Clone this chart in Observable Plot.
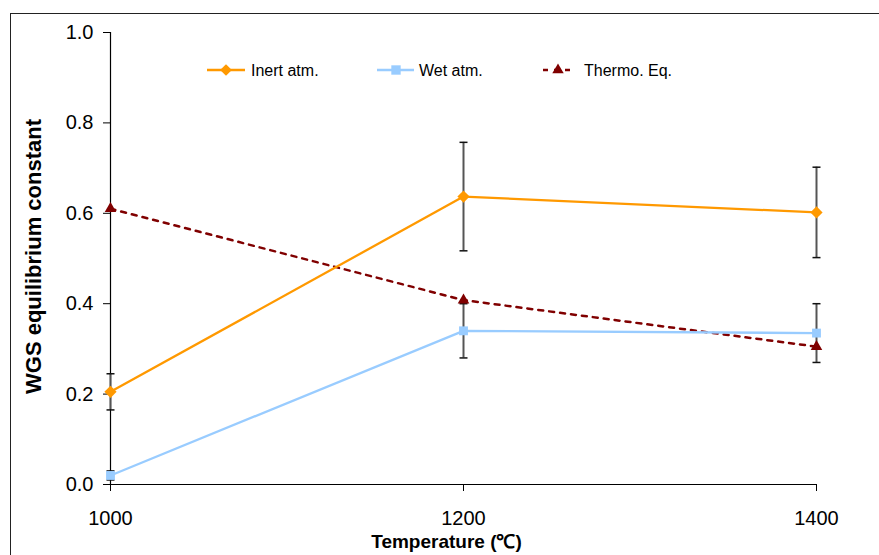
<!DOCTYPE html>
<html>
<head>
<meta charset="utf-8">
<script src="https://cdn.jsdelivr.net/npm/d3@7"></script>
<script src="https://cdn.jsdelivr.net/npm/@observablehq/plot@0.6"></script>
<style>
  html, body { margin: 0; padding: 0; background: #fff; }
  #wrap { position: relative; width: 879px; height: 555px; overflow: hidden; font-family: "Liberation Sans", Arial, sans-serif; }
  #border { position: absolute; left: 10px; top: 13px; width: 1000px; height: 1000px; border-top: 1.5px solid #222; border-left: 1.5px solid #222; }
  #chart { position: absolute; left: 0; top: 0; }
  #legend { position: absolute; left: 0; top: 0; }
</style>
</head>
<body>
<div id="wrap">
  <div id="border"></div>
  <div id="chart"></div>
  <svg id="legend" width="879" height="120"></svg>
</div>
<script>
const temps = [1000, 1200, 1400];
const inert = [0.205, 0.637, 0.602];
const inertErr = [0.04, 0.12, 0.10];
const wet = [0.02, 0.34, 0.335];
const wetErr = [0.01, 0.06, 0.065];
const thermo = [0.61, 0.408, 0.305];
const yTicks = [0, 0.2, 0.4, 0.6, 0.8, 1.0];
const seriesNames = ["Inert atm.", "Wet atm.", "Thermo. Eq."];
const colors = ["#FF9900", "#99CCFF", "#800000"];

const inertData = temps.map((t, i) => ({t, v: inert[i], e: inertErr[i]}));
const wetData = temps.map((t, i) => ({t, v: wet[i], e: wetErr[i]}));
const thermoData = temps.map((t, i) => ({t, v: thermo[i]}));
const errData = [...inertData, ...wetData];

const capSymbol = { draw(ctx, size) { ctx.moveTo(-4, 0); ctx.lineTo(4, 0); } };

const font = "'Liberation Sans', Arial, sans-serif";

const plot = Plot.plot({
  width: 879,
  height: 555,
  marginLeft: 110,
  marginRight: 63,
  marginTop: 32,
  marginBottom: 71,
  style: { fontFamily: font, background: "transparent", overflow: "visible" },
  x: { domain: [1000, 1400] },
  y: { domain: [0, 1] },
  marks: [
    Plot.axisY(yTicks, { tickSize: 7, tickPadding: 10, tickFormat: d3.format(".1f"), fontSize: 20, label: null, stroke: "#000", fill: "#000" }),
    Plot.axisX(temps, { tickSize: 7, tickPadding: 19, tickFormat: d => String(d), fontSize: 20, label: null, stroke: "#000", fill: "#000" }),
    Plot.ruleX([1000], { y1: 0, y2: 1, stroke: "#000", strokeWidth: 1.2 }),
    Plot.ruleY([0], { x1: 1000, x2: 1400, stroke: "#000", strokeWidth: 1.2 }),
    Plot.ruleX(errData, { x: "t", y1: d => d.v - d.e, y2: d => d.v + d.e, stroke: "#555", strokeWidth: 2 }),
    Plot.dot(errData, { x: "t", y: d => d.v - d.e, symbol: capSymbol, stroke: "#111", strokeWidth: 1.5, r: 4 }),
    Plot.dot(errData, { x: "t", y: d => d.v + d.e, symbol: capSymbol, stroke: "#111", strokeWidth: 1.5, r: 4 }),
    Plot.line(thermoData, { x: "t", y: "v", stroke: colors[2], strokeWidth: 2.5, strokeDasharray: "5,6" }),
    Plot.line(inertData, { x: "t", y: "v", stroke: colors[0], strokeWidth: 2.3 }),
    Plot.line(wetData, { x: "t", y: "v", stroke: colors[1], strokeWidth: 2.3 }),
    Plot.dot(inertData, { x: "t", y: "v", symbol: "diamond2", fill: colors[0], r: 5.5 }),
    Plot.dot(wetData, { x: "t", y: "v", symbol: "square", fill: colors[1], r: 5 }),
    Plot.dot(thermoData, { x: "t", y: "v", symbol: "triangle", fill: colors[2], r: 4.3 }),
    Plot.text(["Temperature (℃)"], { frameAnchor: "bottom", textAnchor: "middle", dy: 63, dx: -17, fontSize: 19, fontWeight: "bold", fill: "#000" }),
    Plot.text(["WGS equilibrium constant"], { frameAnchor: "left", textAnchor: "middle", dx: -77, dy: -2, rotate: -90, fontSize: 22, fontWeight: "bold", fill: "#000" })
  ]
});
document.getElementById("chart").appendChild(plot);

// Legend
const lg = d3.select("#legend");
const items = [
  { x1: 207, x2: 245, mx: 226, text: 251, dash: null, sym: d3.symbolDiamond2 },
  { x1: 377, x2: 414, mx: 396, text: 419, dash: null, sym: d3.symbolSquare },
  { x1: 543, x2: 573, mx: 558, text: 584, dash: "5,6", sym: d3.symbolTriangle }
];
items.forEach((it, i) => {
  const y = 70;
  lg.append("line").attr("x1", it.x1).attr("x2", it.x2).attr("y1", y).attr("y2", y)
    .attr("stroke", colors[i]).attr("stroke-width", i === 2 ? 2.5 : 2.3)
    .attr("stroke-dasharray", it.dash);
  lg.append("path").attr("d", d3.symbol(it.sym, i === 2 ? Math.PI * 18 : Math.PI * 28)())
    .attr("transform", `translate(${it.mx},${y})`).attr("fill", colors[i]);
  lg.append("text").attr("x", it.text).attr("y", y).attr("dy", "0.35em")
    .attr("font-family", font).attr("font-size", 16).attr("fill", "#000").text(seriesNames[i]);
});
</script>
</body>
</html>
